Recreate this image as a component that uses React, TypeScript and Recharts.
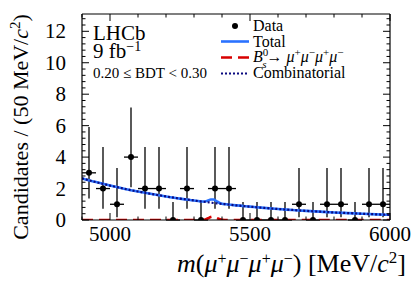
import React from 'react';
import { ComposedChart, Line, Scatter, XAxis, YAxis, ErrorBar } from 'recharts';

// ---- data ----
const binCenters = [4925, 4975, 5025, 5075, 5125, 5175, 5225, 5275, 5325, 5375, 5425, 5475, 5525, 5575, 5625, 5675, 5725, 5775, 5825, 5875, 5925, 5975];
const counts = [3, 2, 1, 4, 2, 2, 0, 2, 0, 2, 2, 0, 0, 0, 0, 1, 0, 1, 1, 0, 1, 1];
const errLow = [1.63, 1.29, 0.83, 1.91, 1.29, 1.29, 0, 1.29, 0, 1.29, 1.29, 0, 0, 0, 0, 0.83, 0, 0.83, 0.83, 0, 0.83, 0.83];
const errHigh = [2.92, 2.64, 2.3, 3.16, 2.64, 2.64, 1.15, 2.64, 1.15, 2.64, 2.64, 1.15, 1.15, 1.15, 1.15, 2.3, 1.15, 2.3, 2.3, 1.15, 2.3, 2.3];
const binHalfWidth = [25, 25, 25, 25, 25, 25, 25, 25, 25, 25, 25, 25, 25, 25, 25, 25, 25, 25, 25, 25, 25, 25];

const curveMass = [4900, 4950, 5000, 5050, 5100, 5150, 5200, 5250, 5300, 5320, 5330, 5340, 5350, 5360, 5370, 5380, 5390, 5400, 5410, 5420, 5450, 5500, 5550, 5600, 5650, 5700, 5750, 5800, 5850, 5900, 5950, 6000];
const combValues = [2.65, 2.41, 2.19, 1.99, 1.81, 1.65, 1.5, 1.36, 1.24, 1.19, 1.17, 1.15, 1.13, 1.11, 1.08, 1.06, 1.04, 1.02, 1.01, 0.99, 0.93, 0.85, 0.77, 0.7, 0.64, 0.58, 0.53, 0.48, 0.44, 0.4, 0.36, 0.33];
const signalValues = [0, 0, 0, 0, 0, 0, 0, 0, 0, 0, 0.01, 0.03, 0.11, 0.19, 0.22, 0.14, 0.06, 0.01, 0, 0, 0, 0, 0, 0, 0, 0, 0, 0, 0, 0, 0, 0];
const totalValues = [2.65, 2.41, 2.19, 1.99, 1.81, 1.65, 1.5, 1.36, 1.24, 1.19, 1.18, 1.18, 1.24, 1.3, 1.3, 1.2, 1.1, 1.03, 1.01, 0.99, 0.93, 0.85, 0.77, 0.7, 0.64, 0.58, 0.53, 0.48, 0.44, 0.4, 0.36, 0.33];

const xMajorTicks = [5000, 5500, 6000];
const xMinorTicks = [4900, 5000, 5100, 5200, 5300, 5400, 5500, 5600, 5700, 5800, 5900, 6000];
const yMajorTicks = [0, 2, 4, 6, 8, 10, 12];
const yMinorTicks = Array.from({ length: 33 }, (_, i) => Math.round(i * 4) / 10);

const points = binCenters.map((m, i) => ({
  x: m,
  y: counts[i],
  ey: [errLow[i], errHigh[i]],
  ex: [binHalfWidth[i], binHalfWidth[i]],
}));
const curve = curveMass.map((m, i) => ({ x: m, comb: combValues[i], sig: signalValues[i], total: totalValues[i] }));

const FONT = '"Liberation Serif", "DejaVu Serif", serif';
const isMajorY = (v: number) => yMajorTicks.some((t) => Math.abs(t - v) < 1e-6);

const BottomTick = (p: any) => {
  const { x, y, payload } = p;
  const major = xMajorTicks.includes(payload.value);
  return (
    <g>
      <line x1={x} x2={x} y1={y} y2={y - (major ? 7 : 3.5)} stroke="#000" strokeWidth={1} />
      {major && (
        <text x={x} y={y + 21} textAnchor="middle" fontFamily={FONT} fontSize={21} fill="#000">
          {payload.value}
        </text>
      )}
    </g>
  );
};
const TopTick = (p: any) => {
  const { x, y, payload } = p;
  const major = xMajorTicks.includes(payload.value);
  return <line x1={x} x2={x} y1={y} y2={y + (major ? 7 : 3.5)} stroke="#000" strokeWidth={1} />;
};
const LeftTick = (p: any) => {
  const { x, y, payload } = p;
  const major = isMajorY(payload.value);
  return (
    <g>
      <line x1={x} x2={x + (major ? 7 : 3.5)} y1={y} y2={y} stroke="#000" strokeWidth={1} />
      {major && (
        <text x={x - 16} y={y + 7} textAnchor="end" fontFamily={FONT} fontSize={21} fill="#000">
          {Math.round(payload.value)}
        </text>
      )}
    </g>
  );
};
const RightTick = (p: any) => {
  const { x, y, payload } = p;
  const major = isMajorY(payload.value);
  return <line x1={x} x2={x - (major ? 7 : 3.5)} y1={y} y2={y} stroke="#000" strokeWidth={1} />;
};

const Dot = (p: any) => <circle cx={p.cx} cy={p.cy} r={3} fill="#000" />;

export default function App() {
  return (
    <div style={{ position: 'absolute', left: 0, top: 0, width: 415, height: 283, background: '#fff' }}>
      <ComposedChart width={415} height={283} margin={{ top: 12, right: 23, bottom: 33, left: 52 }}>
        <XAxis
          xAxisId="b"
          type="number"
          dataKey="x"
          domain={[4900, 6000]}
          allowDataOverflow
          ticks={xMinorTicks}
          interval={0}
          tickSize={0}
          tickMargin={0}
          tickLine={false}
          height={30}
          axisLine={{ stroke: '#000', strokeWidth: 1 }}
          tick={<BottomTick />}
        />
        <XAxis
          xAxisId="t"
          orientation="top"
          type="number"
          dataKey="x"
          domain={[4900, 6000]}
          allowDataOverflow
          ticks={xMinorTicks}
          interval={0}
          tickSize={0}
          tickMargin={0}
          tickLine={false}
          height={2}
          axisLine={{ stroke: '#000', strokeWidth: 1.2 }}
          tick={<TopTick />}
        />
        <YAxis
          yAxisId="l"
          type="number"
          domain={[0, 13.1]}
          allowDataOverflow
          ticks={yMinorTicks}
          interval={0}
          tickSize={0}
          tickMargin={0}
          tickLine={false}
          width={30}
          axisLine={{ stroke: '#000', strokeWidth: 1.2 }}
          tick={<LeftTick />}
        />
        <YAxis
          yAxisId="r"
          orientation="right"
          type="number"
          domain={[0, 13.1]}
          allowDataOverflow
          ticks={yMinorTicks}
          interval={0}
          tickSize={0}
          tickMargin={0}
          tickLine={false}
          width={2}
          axisLine={{ stroke: '#000', strokeWidth: 1.2 }}
          tick={<RightTick />}
        />
        <Scatter
          xAxisId="b"
          yAxisId="l"
          data={points}
          dataKey="y"
          shape={<Dot />}
          isAnimationActive={false}
        >
          <ErrorBar dataKey="ey" direction="y" width={0} stroke="#000" strokeWidth={1.3} isAnimationActive={false} />
          <ErrorBar dataKey="ex" direction="x" width={0} stroke="#000" strokeWidth={1.3} isAnimationActive={false} />
        </Scatter>
        <Line
          xAxisId="b"
          yAxisId="l"
          data={curve}
          dataKey="total"
          type="monotone"
          stroke="#2a72ff"
          strokeWidth={2.6}
          dot={false}
          isAnimationActive={false}
        />
        <Line
          xAxisId="b"
          yAxisId="l"
          data={curve}
          dataKey="sig"
          type="monotone"
          stroke="#d80000"
          strokeWidth={2.6}
          strokeDasharray="11 6"
          dot={false}
          isAnimationActive={false}
        />
        <Line
          xAxisId="b"
          yAxisId="l"
          data={curve}
          dataKey="comb"
          type="monotone"
          stroke="#0a0a80"
          strokeWidth={2.2}
          strokeDasharray="2 2"
          dot={false}
          isAnimationActive={false}
        />
      </ComposedChart>
      <svg
        width={415}
        height={283}
        style={{ position: 'absolute', left: 0, top: 0, pointerEvents: 'none' }}
        fontFamily={FONT}
      >
        {/* axis titles */}
        <text transform="translate(28,127) rotate(-90)" textAnchor="middle" fontSize={22} fill="#000">
          Candidates / (50 MeV/<tspan fontStyle="italic">c</tspan>
          <tspan baselineShift="super" fontSize={15}>2</tspan>)
        </text>
        <text x={406} y={272} textAnchor="end" fontSize={26} fill="#000">
          <tspan fontStyle="italic">m</tspan>(<tspan fontStyle="italic">μ</tspan>
          <tspan baselineShift="super" fontSize={16}>+</tspan>
          <tspan fontStyle="italic">μ</tspan>
          <tspan baselineShift="super" fontSize={16}>−</tspan>
          <tspan fontStyle="italic">μ</tspan>
          <tspan baselineShift="super" fontSize={16}>+</tspan>
          <tspan fontStyle="italic">μ</tspan>
          <tspan baselineShift="super" fontSize={16}>−</tspan>) [MeV/<tspan fontStyle="italic">c</tspan>
          <tspan baselineShift="super" fontSize={17}>2</tspan>]
        </text>
        {/* LHCb labels */}
        <text x={93} y={40} fontSize={21} fill="#000">LHCb</text>
        <text x={93} y={58} fontSize={21} fill="#000">
          9 fb<tspan baselineShift="super" fontSize={14}>−1</tspan>
        </text>
        <text x={93} y={78} fontSize={15} fill="#000">0.20 ≤ BDT &lt; 0.30</text>
        {/* legend */}
        <circle cx={235} cy={26} r={3} fill="#000" />
        <text x={253} y={31} fontSize={16} fill="#000">Data</text>
        <line x1={221} x2={249} y1={41.5} y2={41.5} stroke="#2a72ff" strokeWidth={2.6} />
        <text x={253} y={46.5} fontSize={16} fill="#000">Total</text>
        <line x1={221} x2={249} y1={57.5} y2={57.5} stroke="#d80000" strokeWidth={2.4} strokeDasharray="11 6" />
        <text x={253} y={62} fontSize={16} fill="#000">
          <tspan fontStyle="italic">B</tspan>
          <tspan baselineShift="super" fontSize={11}>0</tspan>
          <tspan baselineShift="sub" fontSize={11} fontStyle="italic" dx={-6}>s</tspan>
          <tspan>→ </tspan>
          <tspan fontStyle="italic">μ</tspan>
          <tspan baselineShift="super" fontSize={11}>+</tspan>
          <tspan fontStyle="italic">μ</tspan>
          <tspan baselineShift="super" fontSize={11}>−</tspan>
          <tspan fontStyle="italic">μ</tspan>
          <tspan baselineShift="super" fontSize={11}>+</tspan>
          <tspan fontStyle="italic">μ</tspan>
          <tspan baselineShift="super" fontSize={11}>−</tspan>
        </text>
        <line x1={221} x2={249} y1={73.5} y2={73.5} stroke="#0a0a80" strokeWidth={2.2} strokeDasharray="2 2" />
        <text x={253} y={78} fontSize={16} fill="#000">Combinatorial</text>
      </svg>
    </div>
  );
}
